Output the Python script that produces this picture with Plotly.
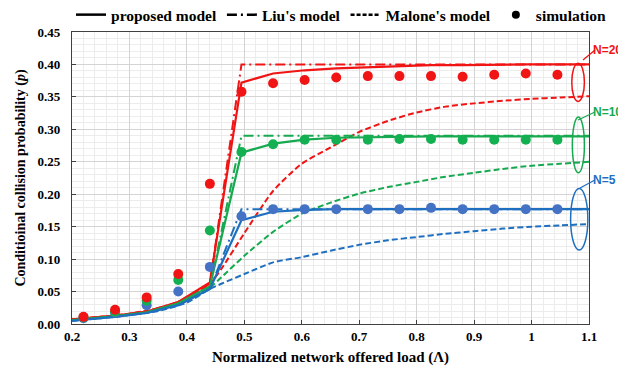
import plotly.graph_objects as go

# ---------------- data ----------------
sim_x = [0.22, 0.275, 0.33, 0.385, 0.44, 0.495, 0.55, 0.605, 0.66, 0.715, 0.77, 0.825, 0.88, 0.935, 0.99, 1.045]
sim_n20 = [0.011, 0.022, 0.041, 0.077, 0.216, 0.358, 0.371, 0.376, 0.380, 0.382, 0.382, 0.382, 0.381, 0.384, 0.386, 0.384]
sim_n10 = [0.010, 0.019, 0.036, 0.068, 0.144, 0.265, 0.277, 0.284, 0.284, 0.284, 0.285, 0.285, 0.284, 0.284, 0.284, 0.284]
sim_n5 = [0.009, 0.017, 0.029, 0.050, 0.088, 0.166, 0.177, 0.177, 0.177, 0.177, 0.177, 0.179, 0.177, 0.177, 0.177, 0.177]

prop_x = [0.2, 0.275, 0.33, 0.385, 0.44, 0.495, 0.55, 0.605, 0.66, 0.715, 0.77, 0.825, 0.88, 0.935, 0.99, 1.045, 1.1]
prop_n20 = [0.007, 0.013, 0.019, 0.034, 0.064, 0.372, 0.386, 0.391, 0.394, 0.396, 0.398, 0.399, 0.399, 0.400, 0.400, 0.400, 0.400]
prop_n10 = [0.006, 0.012, 0.018, 0.032, 0.058, 0.264, 0.278, 0.284, 0.287, 0.288, 0.289, 0.289, 0.289, 0.289, 0.289, 0.289, 0.289]
prop_n5 = [0.005, 0.011, 0.017, 0.029, 0.054, 0.160, 0.173, 0.176, 0.177, 0.177, 0.177, 0.177, 0.177, 0.177, 0.177, 0.177, 0.177]

liu_x = [0.2, 0.275, 0.33, 0.385, 0.44, 0.495, 1.1]
liu_n20 = [0.007, 0.013, 0.019, 0.034, 0.062, 0.400, 0.400]
liu_n10 = [0.006, 0.012, 0.018, 0.032, 0.057, 0.290, 0.290]
liu_n5 = [0.005, 0.011, 0.017, 0.029, 0.054, 0.177, 0.177]

mal_x = [0.2, 0.25, 0.3, 0.35, 0.4, 0.44, 0.46, 0.5, 0.55, 0.6, 0.65, 0.7, 0.75, 0.8, 0.85, 0.9, 0.95, 1.0, 1.05, 1.1]
mal_n20 = [0.007, 0.011, 0.016, 0.024, 0.039, 0.062, 0.085, 0.140, 0.205, 0.247, 0.272, 0.296, 0.313, 0.326, 0.335, 0.340, 0.344, 0.347, 0.349, 0.351]
mal_n10 = [0.006, 0.010, 0.015, 0.022, 0.036, 0.056, 0.072, 0.105, 0.142, 0.170, 0.187, 0.201, 0.211, 0.219, 0.227, 0.233, 0.239, 0.244, 0.247, 0.250]
mal_n5 = [0.005, 0.009, 0.014, 0.020, 0.033, 0.054, 0.062, 0.077, 0.095, 0.103, 0.113, 0.122, 0.129, 0.134, 0.139, 0.143, 0.147, 0.150, 0.152, 0.154]

legend_names = ["proposed model", "Liu's model", "Malone's model", "simulation"]
group_labels = ["N=20", "N=10", "N=5"]

RED = "#f01414"
GREEN_L = "#16a94f"
GREEN_M = "#12b050"
BLUE_L = "#1f6fc0"
BLUE_M = "#4472c4"

SERIF = "Liberation Serif"
DASH = "6px,3px"
DASHDOT = "10px,4px,2px,4px"

fig = go.Figure()

groups = [
    (RED, RED, prop_n20, liu_n20, mal_n20, sim_n20),
    (GREEN_L, GREEN_M, prop_n10, liu_n10, mal_n10, sim_n10),
    (BLUE_L, BLUE_M, prop_n5, liu_n5, mal_n5, sim_n5),
]

# Malone (dashed)
for lc, mc, p, l, m, s in groups:
    fig.add_trace(go.Scatter(x=mal_x, y=m, mode="lines", showlegend=False,
                             line=dict(color=lc, width=2, dash=DASH, shape="spline", smoothing=0.6)))
# Liu (dash-dot)
for lc, mc, p, l, m, s in groups:
    fig.add_trace(go.Scatter(x=liu_x, y=l, mode="lines", showlegend=False,
                             line=dict(color=lc, width=2, dash=DASHDOT)))
# proposed (solid)
for lc, mc, p, l, m, s in groups:
    fig.add_trace(go.Scatter(x=prop_x, y=p, mode="lines", showlegend=False,
                             line=dict(color=lc, width=2.2)))
# simulation dots (blue, green, red so red on top)
for lc, mc, p, l, m, s in reversed(groups):
    fig.add_trace(go.Scatter(x=sim_x, y=s, mode="markers", showlegend=False,
                             marker=dict(color=mc, size=10)))

# legend entries (black)
fig.add_trace(go.Scatter(x=[None], y=[None], mode="lines", name=legend_names[0],
                         line=dict(color="black", width=2.5)))
fig.add_trace(go.Scatter(x=[None], y=[None], mode="lines", name=legend_names[1],
                         line=dict(color="black", width=2.5, dash=DASHDOT)))
fig.add_trace(go.Scatter(x=[None], y=[None], mode="lines", name=legend_names[2],
                         line=dict(color="black", width=2.5, dash="4px,2px")))
fig.add_trace(go.Scatter(x=[None], y=[None], mode="markers", name=legend_names[3],
                         marker=dict(color="black", size=8)))

# ellipses (data coords)
ellipses = [
    (RED, 1.070, 1.092, 0.343, 0.402),
    (GREEN_L, 1.071, 1.092, 0.233, 0.319),
    (BLUE_L, 1.068, 1.098, 0.114, 0.209),
]
for c, x0, x1, y0, y1 in ellipses:
    fig.add_shape(type="circle", xref="x", yref="y", x0=x0, x1=x1, y0=y0, y1=y1,
                  line=dict(color=c, width=1.5))

# callout lines (paper coords; window px -> paper) and labels
def px2paper(px, py):
    return (px - 72) / 517.0, (324 - py) / 292.0

callouts = [
    (RED, (583, 60), (595, 50), group_labels[0]),
    (GREEN_L, (578, 120), (595, 112), group_labels[1]),
    (BLUE_L, (580, 188), (595, 180), group_labels[2]),
]
for c, a, b, t in callouts:
    x0, y0 = px2paper(*a)
    x1, y1 = px2paper(*b)
    fig.add_shape(type="line", xref="paper", yref="paper", x0=x0, y0=y0, x1=x1, y1=y1,
                  line=dict(color=c, width=1.3))
    fig.add_annotation(xref="paper", yref="paper", x=x1, y=y1, text="<b>%s</b>" % t,
                       showarrow=False, xanchor="left", yanchor="middle", xshift=-3,
                       borderpad=0,
                       font=dict(family="Liberation Sans", size=12, color=c))

axis_common = dict(
    showline=True, linecolor="#404040", linewidth=1.3, mirror=True,
    ticks="inside", ticklen=4, tickcolor="#404040",
    showgrid=True, gridcolor="#d4d4d4", gridwidth=1,
    zeroline=False, automargin=False,
    tickfont=dict(family=SERIF, size=13, color="black", weight="bold"),
)

fig.update_xaxes(range=[0.2, 1.1], dtick=0.1, tick0=0.2,
                 minor=dict(dtick=0.02, showgrid=True, gridcolor="#ececec", gridwidth=1, ticks=""),
                 title=dict(text="Normalized network offered load (Λ)", standoff=8,
                            font=dict(family=SERIF, size=15, color="black", weight="bold")),
                 **axis_common)
fig.update_yaxes(range=[0, 0.45], dtick=0.05, tickformat=".2f",
                 minor=dict(dtick=0.01, showgrid=True, gridcolor="#ececec", gridwidth=1, ticks=""),
                 ticklabelstandoff=8,
                 title=dict(text="Conditioinal collision probability (<i>p</i>)", standoff=8,
                            font=dict(family=SERIF, size=14, color="black", weight="bold")),
                 **axis_common)

# page body has an 8px margin, so the figure is 8px smaller than the window
fig.update_layout(
    width=618, height=362,
    margin=dict(l=64, r=37, t=24, b=46, autoexpand=False),
    plot_bgcolor="white", paper_bgcolor="white",
    showlegend=True,
    legend=dict(orientation="h", x=1.0445, xanchor="right",
                y=1.058, yanchor="middle",
                font=dict(family=SERIF, size=15.5, color="black", weight="bold"),
                bgcolor="rgba(0,0,0,0)", tracegroupgap=0),
)

fig.write_html("out.html")
